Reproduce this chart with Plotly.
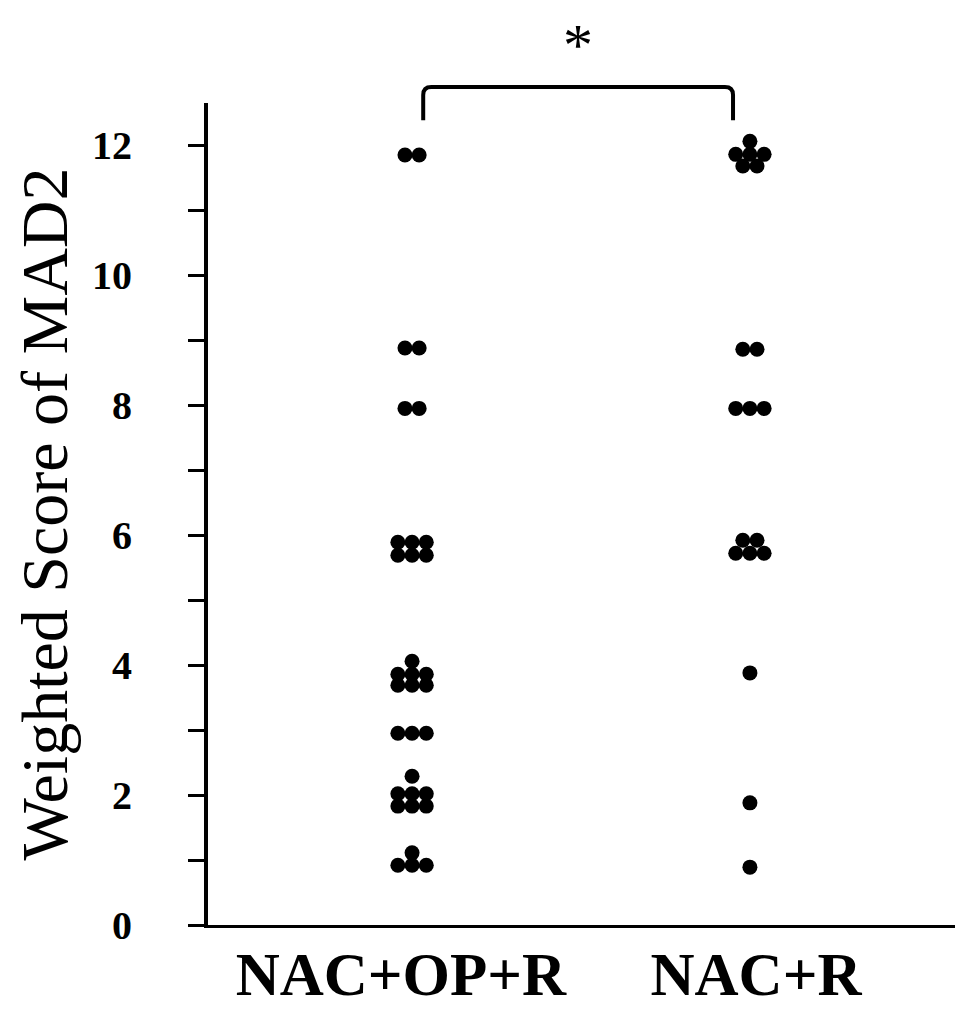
import plotly.graph_objects as go
from collections import Counter

groups = ["NAC+OP+R", "NAC+R"]
nac_op_r = [11.85, 11.85, 8.88, 8.88, 7.95, 7.95,
            5.89, 5.89, 5.89, 5.69, 5.69, 5.69,
            4.06, 3.86, 3.86, 3.86, 3.69, 3.69, 3.69,
            2.95, 2.95, 2.95,
            2.29, 2.02, 2.02, 2.02, 1.83, 1.83, 1.83,
            1.11, 0.92, 0.92, 0.92]
nac_r = [12.06, 11.86, 11.86, 11.86, 11.68, 11.68,
         8.86, 8.86, 7.95, 7.95, 7.95,
         5.92, 5.92, 5.72, 5.72, 5.72,
         3.88, 1.88, 0.89]
y_ticks = [0, 2, 4, 6, 8, 10, 12]

FONT = "Liberation Serif"
step = 0.042  # horizontal gap between dots of one row


def dodge(values, center):
    # points sharing a value sit side by side, centred on the group
    xs, ys = [], []
    for v, n in Counter(values).items():
        for i in range(n):
            xs.append(center + (i - (n - 1) / 2) * step)
            ys.append(v)
    return xs, ys


fig = go.Figure()
for pos, vals in zip([1, 2], [nac_op_r, nac_r]):
    xs, ys = dodge(vals, pos)
    fig.add_trace(go.Scatter(x=xs, y=ys, mode="markers",
                             marker=dict(color="black", size=15, line=dict(width=0)),
                             cliponaxis=False, showlegend=False))

fig.update_xaxes(range=[0.396, 2.607], showline=True, linecolor="black", linewidth=3,
                 showgrid=False, zeroline=False, ticks="", automargin=False,
                 tickvals=[0.967, 2.018], ticktext=groups, ticklabelstandoff=-6,
                 tickfont=dict(family=FONT, size=61, color="black", weight="bold"))
fig.update_yaxes(range=[0, 12.65], showline=True, linecolor="black", linewidth=4,
                 showgrid=False, zeroline=False, tickvals=y_ticks, automargin=False,
                 ticks="outside", ticklen=16, tickwidth=3, tickcolor="black",
                 minor=dict(dtick=1, ticks="outside", ticklen=16, tickwidth=3, tickcolor="black"),
                 ticklabelstandoff=48,
                 tickfont=dict(family=FONT, size=40, color="black", weight="bold"),
                 title=dict(text="Weighted Score of MAD2", standoff=14,
                            font=dict(family=FONT, size=66, color="black")))

# significance bracket
fig.add_shape(type="path", xref="x", yref="paper",
              path="M 1.033,0.979 L 1.033,1.0098 Q 1.033,1.0195 1.057,1.0195 "
                   "L 1.926,1.0195 Q 1.95,1.0195 1.95,1.0098 L 1.95,0.979",
              line=dict(color="black", width=4))
fig.add_annotation(x=1.492, y=1.113, xref="x", yref="paper", yanchor="top",
                   text="*", showarrow=False,
                   font=dict(family=FONT, size=60, color="black"))

fig.update_layout(width=969, height=1011, margin=dict(l=200, r=22, t=95, b=94),
                  plot_bgcolor="white", paper_bgcolor="white")
fig.write_html("out.html")
